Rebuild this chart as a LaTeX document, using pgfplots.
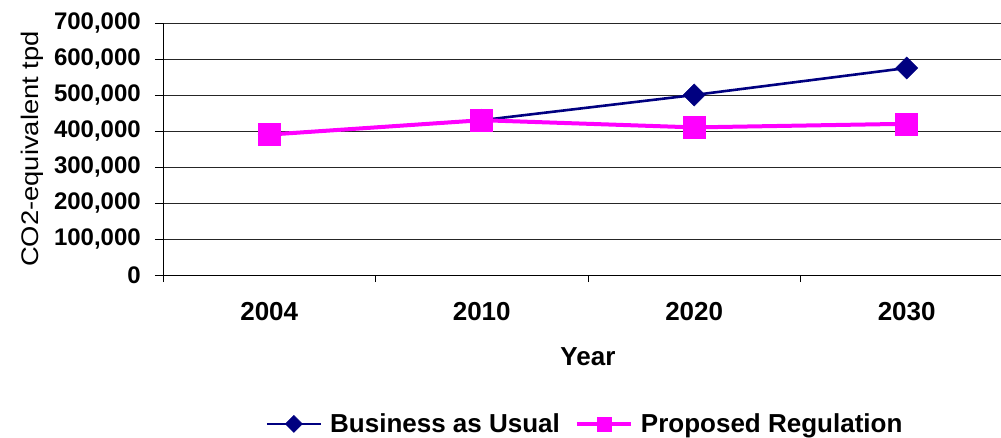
\documentclass[border=0pt]{standalone}
\usepackage{fontspec}
\setmainfont{Liberation Sans}
\newfontfamily\ylabfont{Liberation Sans}[FakeStretch=1.14]
\usepackage{pgfplots}
\pgfplotsset{compat=1.18}
\definecolor{navyc}{RGB}{0,0,128}
\definecolor{magc}{RGB}{255,0,255}

\begin{document}
\begin{tikzpicture}
\useasboundingbox (0,0) rectangle (1001bp,438bp);
\begin{axis}[
  at={(163bp,163bp)}, anchor=south west,
  scale only axis, width=838bp, height=252bp,
  clip=false,
  xmin=-0.5, xmax=3.444, ymin=0, ymax=700000,
  axis x line*=bottom, axis y line*=left,
  xtick={0,1,2,3}, xticklabels={2004,2010,2020,2030},
  minor xtick={-0.5,0.5,1.5,2.5},
  ytick={0,100000,200000,300000,400000,500000,600000,700000},
  ymajorgrids, grid style={black!85, line width=0.9bp},
  tick align=outside, major tick length=8bp, minor tick length=7bp,
  every tick/.style={black, line width=0.9bp},
  major x tick style={draw=none},
  axis line style={black, line width=0.9bp},
  scaled y ticks=false,
  /pgf/number format/fixed,
  /pgf/number format/1000 sep={,},
  /pgf/number format/assume math mode=true,
  yticklabel style={font=\fontsize{24bp}{28bp}\selectfont\bfseries, inner sep=0pt, xshift=-14bp},
  xticklabel style={font=\fontsize{26bp}{30bp}\selectfont\bfseries, inner sep=0pt, anchor=north, yshift=-19bp},
  every axis y label/.style={at={(axis description cs:0,0.5)}, xshift=-131bp, rotate=90, anchor=center, font=\fontsize{24bp}{28bp}\ylabfont},
  ylabel={CO2-equivalent tpd},
  legend style={at={(axis description cs:0.5024,-0.591)}, anchor=center, draw=none, fill=none,
    font=\fontsize{26bp}{30bp}\selectfont\bfseries, legend columns=-1,
    nodes={inner sep=0pt},
    /tikz/every odd column/.append style={column sep=8bp},
    /tikz/every even column/.append style={column sep=15bp}},
  legend image code/.code={\draw[mark repeat=2, mark phase=2] plot coordinates {(0bp,0bp) (27bp,0bp) (54bp,0bp)};},
]
\addplot[navyc, line width=2.6bp, mark=square*, mark size=7.8bp, mark options={rotate=45, solid, fill=navyc, draw=navyc, line width=0.5bp},
  legend image post style={every mark/.append style={scale=0.77}}]
  coordinates {(0,390000) (1,430000) (2,500000) (3,575000)};
\addlegendentry{Business as Usual}
\addplot[magc, line width=4bp, mark=square*, mark size=11bp, mark options={solid, fill=magc, draw=magc, line width=0.5bp},
  legend image post style={every mark/.append style={scale=0.62}}]
  coordinates {(0,390000) (1,430000) (2,410000) (3,420000)};
\addlegendentry{Proposed Regulation}
\node[font=\fontsize{26bp}{30bp}\selectfont\bfseries, anchor=center] at (axis cs:1.5,0) [yshift=-82bp] {Year};
\end{axis}
\end{tikzpicture}
\end{document}
